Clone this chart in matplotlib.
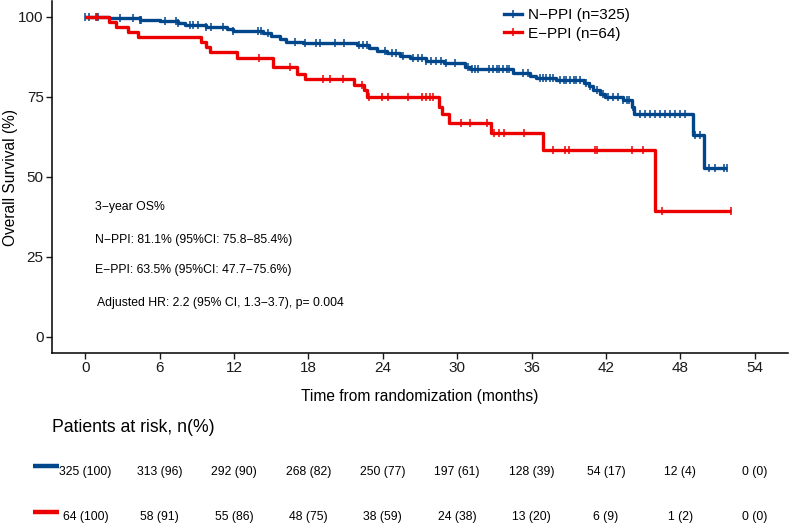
import numpy as np
import matplotlib
matplotlib.use("Agg")
import matplotlib.pyplot as plt
from matplotlib.lines import Line2D
from matplotlib.transforms import blended_transform_factory

plt.rcParams['font.family'] = ['Liberation Sans', 'DejaVu Sans']

# --- datos ---
BLUE = "#00468B"
RED = "#ED0000"

n_times = [0, 1.9, 4.4, 6.0, 7.5, 8.0, 9.75, 11.4, 11.9, 14.3, 15.0, 15.7, 16.2, 17.55,
           21.9, 22.9, 23.5, 24.3, 25.4, 26.2, 27.5, 28.9, 30.6, 31.0, 34.5, 35.9, 36.4,
           38.0, 40.2, 40.6, 41.0, 41.5, 41.9, 43.4, 44.1, 44.3, 49.0, 49.9]
n_surv = [100, 99.6, 99.1, 98.6, 98.0, 97.4, 97.0, 96.1, 95.7, 95.0, 94.1, 93.0, 92.3, 91.8,
          91.2, 90.2, 89.5, 88.6, 87.8, 87.1, 86.4, 85.7, 84.5, 83.7, 82.6, 81.6, 80.9,
          80.3, 79.5, 78.4, 77.2, 75.9, 75.1, 74.1, 72.0, 69.7, 63.1, 52.7]
n_end = 51.75
n_cens = [0.0, 0.27, 0.86, 1.0, 2.75, 3.8, 4.4, 4.5, 6.4, 7.3, 7.5, 8.4, 8.7, 9.1, 9.75,
          10.15, 11.1, 11.9, 13.9, 14.2, 14.7, 16.9, 17.7, 18.6, 18.9, 20.1, 20.9, 22.1,
          22.4, 22.7, 24.15, 24.7, 25.1, 25.6, 26.4, 26.8, 27.2, 27.5, 27.9, 28.3, 28.7,
          29.1, 29.8, 30.9, 31.2, 31.4, 31.7, 32.6, 32.9, 33.2, 33.4, 33.7, 34.0, 34.2,
          35.3, 35.7, 36.7, 36.9, 37.2, 37.5, 37.7, 38.3, 38.6, 38.8, 39.1, 39.4, 39.6,
          39.9, 40.4, 40.7, 41.25, 41.8, 42.2, 42.6, 43.0, 43.4, 43.7, 43.9, 44.2, 44.75,
          45.15, 45.6, 46.0, 46.4, 46.8, 47.2, 47.6, 48.0, 48.4, 49.2, 49.6, 50.3, 50.8,
          51.5, 51.75]

e_times = [0, 1.88, 2.48, 3.42, 4.23, 9.35, 9.7, 10.06, 12.25, 15.14, 17.07, 17.68, 21.64,
           22.46, 22.76, 28.55, 28.75, 29.36, 32.7, 36.93, 46.0]
e_surv = [100, 98.4, 96.9, 95.3, 93.8, 92.2, 90.6, 89.1, 87.3, 84.3, 82.3, 80.5, 78.8,
          77.1, 75.0, 72.0, 69.6, 66.8, 63.6, 58.4, 39.4]
e_end = 52.1
e_cens = [0.9, 14.0, 16.5, 19.2, 19.7, 20.8, 22.3, 22.9, 23.9, 24.4, 26.0, 27.2, 27.5,
          27.8, 28.05, 30.3, 31.0, 32.4, 33.0, 33.4, 33.8, 35.4, 37.7, 38.7, 39.0, 41.1,
          41.3, 44.1, 45.0, 46.5, 52.1]

risk_times = [0, 6, 12, 18, 24, 30, 36, 42, 48, 54]
n_risk = [325, 313, 292, 268, 250, 197, 128, 54, 12, 0]
n_pct = [100, 96, 90, 82, 77, 61, 39, 17, 4, 0]
e_risk = [64, 58, 55, 48, 38, 24, 13, 6, 1, 0]
e_pct = [100, 91, 86, 75, 59, 38, 20, 9, 2, 0]

labels = ["N\u2212PPI (n=325)", "E\u2212PPI (n=64)"]
notes = ["3\u2212year OS%",
         "N\u2212PPI: 81.1% (95%CI: 75.8\u221285.4%)",
         "E\u2212PPI: 63.5% (95%CI: 47.7\u221275.6%)",
         "Adjusted HR: 2.2 (95% CI, 1.3\u22123.7), p= 0.004"]

W, H = 790, 526
fig = plt.figure(figsize=(W / 100, H / 100), dpi=100)
ax = fig.add_axes([52 / W, (H - 353) / H, (788 - 52) / W, 352 / H])


def draw_km(times, surv, end, cens, color):
    xs = list(times) + [end]
    ys = list(surv) + [surv[-1]]
    ax.step(xs, ys, where='post', color=color, lw=2.4, solid_capstyle='butt')
    idx = np.searchsorted(times, cens, side='right') - 1
    ax.plot(cens, np.array(surv)[idx], ls='none', marker='|', ms=6, mew=1.1, color=color)


draw_km(n_times, n_surv, n_end, n_cens, BLUE)
draw_km(e_times, e_surv, e_end, e_cens, RED)

ax.set_xlim(-2.7, 56.7)
ax.set_ylim(-5, 105)
ax.set_xticks(risk_times)
ax.set_yticks([0, 25, 50, 75, 100])
for s in ['top', 'right']:
    ax.spines[s].set_visible(False)
for s in ['left', 'bottom']:
    ax.spines[s].set_linewidth(1.1)
ax.tick_params(length=4, width=1, colors='#1a1a1a', labelsize=11, pad=2)
ax.set_xlabel("Time from randomization (months)", fontsize=11.2, labelpad=10)
ax.set_ylabel("Overall Survival (%)", fontsize=11.2)
ax.yaxis.set_label_coords(-0.046, 0.5)

# texto del panel
note_y = [40.5, 30.4, 20.8, 10.6]
note_x = [0.8, 0.8, 0.8, 0.95]
for tx, ty, s in zip(note_x, note_y, notes):
    ax.text(tx, ty, s, fontsize=8.8, va='center', ha='left')

handles = [Line2D([], [], color=c, lw=2.4, marker='|', ms=6, mew=1.1) for c in (BLUE, RED)]
ax.legend(handles, labels, loc='upper left', bbox_to_anchor=(504 / W, 1 - 8 / H),
          bbox_transform=fig.transFigure, frameon=False, fontsize=11,
          handlelength=1.15, handletextpad=0.45, labelspacing=0.3, borderpad=0,
          borderaxespad=0, numpoints=1)

# tabla de pacientes en riesgo
fig.text(52 / W, 1 - 428 / H, "Patients at risk, n(%)", fontsize=12.7, va='center', ha='left')
tr = blended_transform_factory(ax.transData, fig.transFigure)
for row_y, bar_y, counts, pcts, col in [(471.7, 465.7, n_risk, n_pct, BLUE),
                                         (517.3, 511.7, e_risk, e_pct, RED)]:
    fig.add_artist(Line2D([33 / W, 59 / W], [1 - bar_y / H] * 2, color=col, lw=3.2,
                          solid_capstyle='butt', transform=fig.transFigure))
    for t, c, p in zip(risk_times, counts, pcts):
        fig.text(t, 1 - row_y / H, f"{c} ({p})", transform=tr, fontsize=8.8,
                 ha='center', va='center')

fig.savefig("out.png", dpi=100)
